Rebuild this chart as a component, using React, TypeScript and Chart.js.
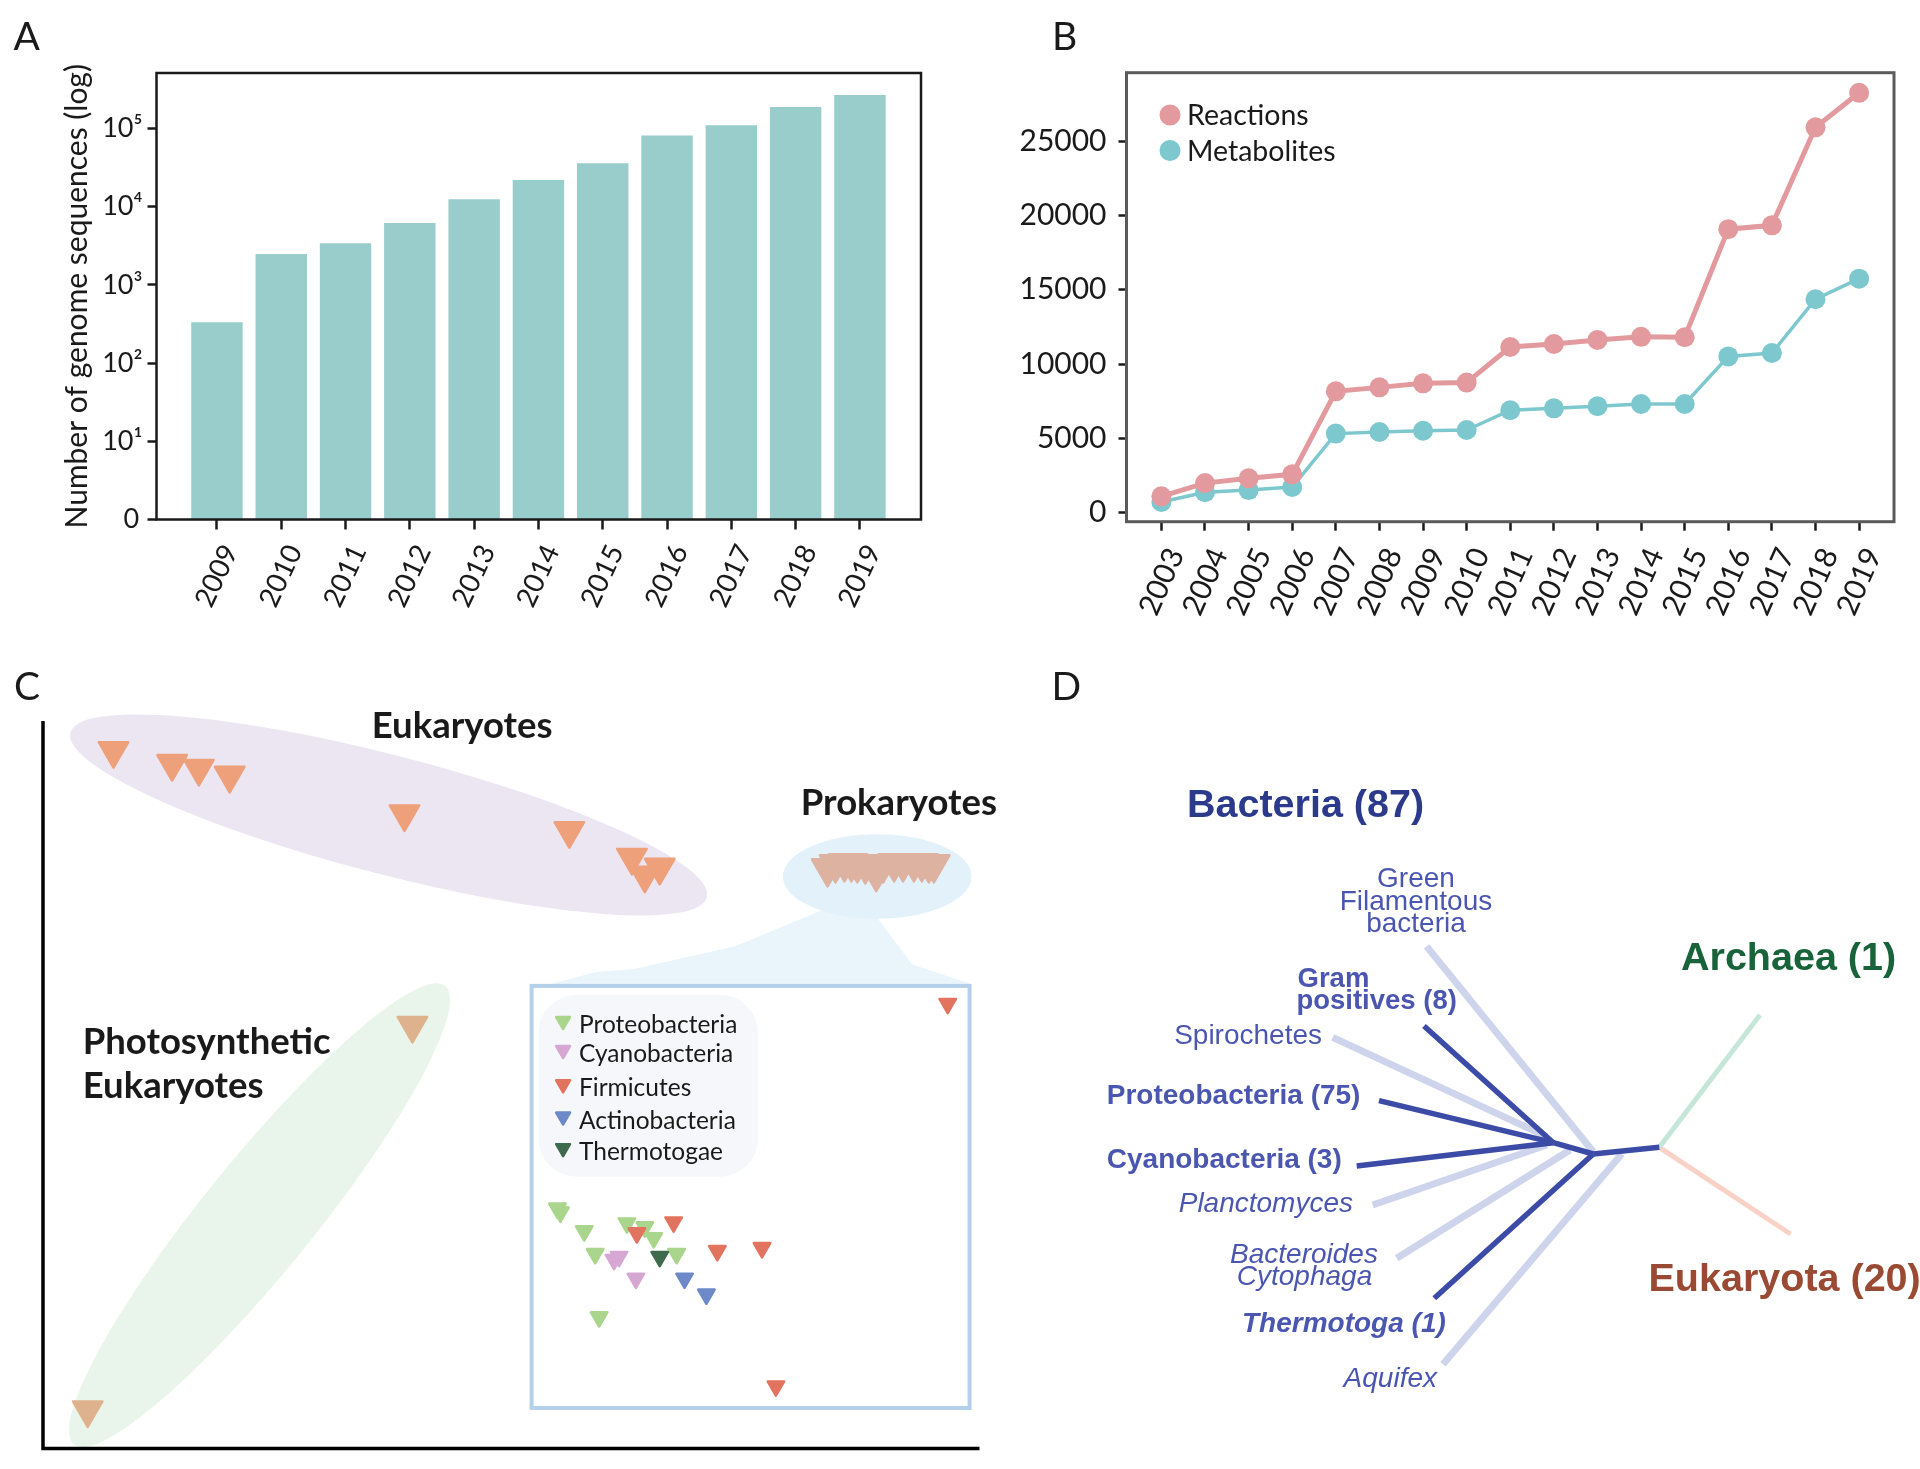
import React, { useEffect, useRef } from 'react';
import { Chart, registerables } from 'chart.js';

Chart.register(...registerables);

const SANS = 'Lato, "Open Sans", "DejaVu Sans", sans-serif';
const TREE = '"Liberation Sans", Arial, Helvetica, sans-serif';
const INK = '#1a1a1a';

// ================= Panel A : genome sequences (log) =================
const genomeYears = [2009, 2010, 2011, 2012, 2013, 2014, 2015, 2016, 2017, 2018, 2019];
const genomeCounts = [334, 2480, 3400, 6170, 12400, 22000, 35900, 81100, 110000, 188000, 267000];
const genomeTickValues = [1, 10, 100, 1000, 10000, 100000];
const genomeTickLabels = ['0\u2009', '10¹', '10²', '10³', '10⁴', '10⁵'];
const genomeAxisTitle = 'Number of genome sequences (log)';

// ================= Panel B : reactions / metabolites =================
const modelYears = [2003, 2004, 2005, 2006, 2007, 2008, 2009, 2010, 2011, 2012, 2013, 2014, 2015, 2016, 2017, 2018, 2019];
const reactionCounts = [1100, 1990, 2310, 2580, 8165, 8430, 8700, 8750, 11145, 11350, 11620, 11830, 11800, 19070, 19330, 25920, 28240];
const metaboliteCounts = [720, 1380, 1520, 1730, 5320, 5430, 5510, 5560, 6890, 7020, 7160, 7310, 7310, 10510, 10740, 14360, 15740];
const modelTickValues = [0, 5000, 10000, 15000, 20000, 25000];
const modelSeriesNames = ['Reactions', 'Metabolites'];
const modelSeriesColors = ['#E39A9E', '#7DC8CE'];

// ================= Panel C : embedding (arbitrary units) =================
const eukaryotePoints = [[71, 706], [130, 693], [157, 688], [188, 681], [364, 642], [530, 625], [593, 598], [621, 588], [606, 580]];
const photosyntheticPoints = [[372, 428], [45, 39]];
const prokaryotePoints = [[790, 587], [798, 591], [807, 592], [814, 592], [820, 591], [828, 590], [839, 582], [846, 591], [857, 592], [866, 592], [877, 592], [885, 592], [892, 591], [897, 591]];
const proteobacteriaPoints = [[518, 243], [521, 239], [545, 220], [588, 228], [606, 224], [615, 213], [556, 197], [638, 197], [560, 133]];
const cyanobacteriaPoints = [[575, 191], [580, 194], [597, 172]];
const firmicutesPoints = [[911, 450], [635, 229], [598, 218], [679, 200], [724, 203], [738, 63]];
const actinobacteriaPoints = [[646, 172], [668, 156]];
const thermotogaePoints = [[621, 194]];
const phylumNames = ['Proteobacteria', 'Cyanobacteria', 'Firmicutes', 'Actinobacteria', 'Thermotogae'];
const phylumColors = ['#A9D58C', '#D5A7D2', '#E2735F', '#6E89C8', '#3F6A4D'];
const groupNames = ['Eukaryotes', 'Photosynthetic Eukaryotes', 'Prokaryotes'];
const groupColors = ['#EEA07A', '#DFB28E', '#DDB2A1'];

// ================= Panel D : tree of life (layout units) =================
const darkBranchNames = ['Gram positives (8)', 'Proteobacteria (75)', 'Cyanobacteria (3)', 'Thermotoga (1)', 'Bacteria crown', 'Bacteria stem'];
const darkBranchFrom = [[424, 443], [379, 368.3], [356.7, 303], [434.3, 170.7], [553.3, 326.3], [593.3, 315]];
const darkBranchTo = [[553.3, 326.3], [553.3, 326.3], [553.3, 326.3], [593.3, 315], [593.3, 315], [659.3, 321.7]];
const lightBranchNames = ['Green Filamentous bacteria', 'Spirochetes', 'Planctomyces', 'Bacteroides Cytophaga', 'Aquifex'];
const lightBranchFrom = [[426.6, 522.6], [332.7, 431.7], [372.7, 264], [396.7, 210.7], [443, 104.7]];
const lightBranchTo = [[593.3, 317.3], [546.7, 332.3], [546.7, 324], [570, 319], [621.7, 315]];
const domainBranchNames = ['Archaea (1)', 'Eukaryota (20)'];
const domainBranchFrom = [[659.3, 321.7], [659.3, 321.7]];
const domainBranchTo = [[760, 454], [790.5, 235]];
const domainBranchColors = ['#C5E6D8', '#F9D2C7'];

// ---------------- shared helpers ----------------
const baseOptions = () => ({
  responsive: false,
  animation: false as const,
  devicePixelRatio: 1,
  events: [] as any[],
});
const noPlugins = { legend: { display: false }, tooltip: { enabled: false } };

const letterPlugin = (id: string, letter: string, x: number, y: number) => ({
  id,
  afterDraw(chart: any) {
    const ctx = chart.ctx;
    ctx.save();
    ctx.font = `400 39px ${SANS}`;
    ctx.fillStyle = INK;
    ctx.textAlign = 'left';
    ctx.textBaseline = 'alphabetic';
    ctx.fillText(letter, x, y);
    ctx.restore();
  },
});

const framePlugin = (id: string, color: string, width: number) => ({
  id,
  afterDatasetsDraw(chart: any) {
    const { left, top, right, bottom } = chart.chartArea;
    const ctx = chart.ctx;
    ctx.save();
    ctx.strokeStyle = color;
    ctx.lineWidth = width;
    ctx.strokeRect(left, top, right - left, bottom - top);
    ctx.restore();
  },
});

function configA(): any {
  return {
    type: 'bar',
    data: {
      datasets: [
        {
          label: 'Genome sequences',
          data: genomeYears.map((y, i) => ({ x: y, y: genomeCounts[i] })),
          backgroundColor: '#99CDCC',
          borderWidth: 0,
          barPercentage: 0.8,
          categoryPercentage: 1,
        },
      ],
    },
    options: {
      ...baseOptions(),
      plugins: noPlugins,
      layout: { padding: { left: 0, top: 73, right: 39, bottom: 0 } },
      scales: {
        x: {
          type: 'linear',
          offset: false,
          min: 2008.06,
          max: 2019.95,
          afterBuildTicks: (s: any) => { s.ticks = genomeYears.map((v) => ({ value: v })); },
          afterFit: (s: any) => { s.height = 120.5; },
          grid: { offset: false, drawOnChartArea: false, drawTicks: true, tickLength: 10, tickWidth: 2.5, tickColor: INK },
          border: { display: false },
          ticks: {
            autoSkip: false,
            minRotation: 65,
            maxRotation: 65,
            labelOffset: 13.5,
            padding: 10,
            color: INK,
            font: { family: SANS, size: 28 },
            callback: (v: any) => String(v),
          },
        },
        y: {
          type: 'logarithmic',
          min: 1,
          max: 512000,
          afterBuildTicks: (s: any) => { s.ticks = genomeTickValues.map((v) => ({ value: v })); },
          afterFit: (s: any) => { s.width = 156.5; },
          grid: { drawOnChartArea: false, drawTicks: true, tickLength: 9, tickWidth: 2.5, tickColor: INK },
          border: { display: false },
          ticks: {
            padding: 5,
            color: INK,
            font: { family: SANS, size: 27 },
            callback: (v: any) => {
              const i = genomeTickValues.indexOf(Number(v));
              return i >= 0 ? genomeTickLabels[i] : '';
            },
          },
          title: {
            display: true,
            text: genomeAxisTitle,
            color: INK,
            font: { family: SANS, size: 30 },
            padding: { top: 59, bottom: 0 },
          },
        },
      },
    },
    plugins: [framePlugin('frameA', INK, 2.5), letterPlugin('letterA', 'A', 13.5, 50)],
  };
}

const legendB = {
  id: 'legendB',
  afterDraw(chart: any) {
    const ctx = chart.ctx;
    ctx.save();
    chart.data.datasets.forEach((ds: any, i: number) => {
      const cy = 115 + i * 35.5;
      ctx.beginPath();
      ctx.arc(210, cy, 10.5, 0, Math.PI * 2);
      ctx.fillStyle = ds.backgroundColor;
      ctx.fill();
      ctx.font = `400 28.5px ${SANS}`;
      ctx.fillStyle = INK;
      ctx.textAlign = 'left';
      ctx.textBaseline = 'alphabetic';
      ctx.fillText(ds.label, 227, 125 + i * 35.7);
    });
    ctx.restore();
  },
};

function configB(): any {
  const series = [reactionCounts, metaboliteCounts];
  return {
    type: 'line',
    data: {
      datasets: series.map((vals, k) => ({
        label: modelSeriesNames[k],
        data: modelYears.map((y, i) => ({ x: y, y: vals[i] })),
        borderColor: modelSeriesColors[k],
        backgroundColor: modelSeriesColors[k],
        pointBackgroundColor: modelSeriesColors[k],
        pointBorderWidth: 0,
        pointRadius: 10,
        borderWidth: k === 0 ? 5 : 3.5,
        tension: 0,
      })),
    },
    options: {
      ...baseOptions(),
      plugins: noPlugins,
      layout: { padding: { left: 0, top: 72.7, right: 26, bottom: 0 } },
      scales: {
        x: {
          type: 'linear',
          offset: false,
          min: 2002.2,
          max: 2019.8,
          afterBuildTicks: (s: any) => { s.ticks = modelYears.map((v) => ({ value: v })); },
          afterFit: (s: any) => { s.height = 118.3; },
          grid: { offset: false, drawOnChartArea: false, drawTicks: true, tickLength: 9, tickWidth: 2.5, tickColor: INK },
          border: { display: false },
          ticks: {
            autoSkip: false,
            minRotation: 66,
            maxRotation: 66,
            labelOffset: 14.5,
            padding: 12,
            color: INK,
            font: { family: SANS, size: 30 },
            callback: (v: any) => String(v),
          },
        },
        y: {
          type: 'linear',
          min: -605,
          max: 29594,
          afterBuildTicks: (s: any) => { s.ticks = modelTickValues.map((v) => ({ value: v })); },
          afterFit: (s: any) => { s.width = 166.5; },
          grid: { drawOnChartArea: false, drawTicks: true, tickLength: 8, tickWidth: 2.5, tickColor: INK },
          border: { display: false },
          ticks: {
            padding: 12,
            color: INK,
            font: { family: SANS, size: 30 },
            callback: (v: any) => String(v),
          },
        },
      },
    },
    plugins: [framePlugin('frameB', '#5a5a5a', 3), legendB, letterPlugin('letterB', 'B', 92, 50)],
  };
}

// ---------- Panel C annotations (in data units of the embedding) ----------
const funnelOutline = [[783, 544], [697, 508], [595, 485], [557, 482], [512, 470], [934, 470], [875, 490], [840, 537]];
const legendBaselines = [420.3, 391, 356.3, 323.7, 291.7];

function downTriangle(ctx: any, x: number, y: number, r: number) {
  const s = Math.sin(Math.PI / 3) * r;
  ctx.beginPath();
  ctx.moveTo(x, y + r);
  ctx.lineTo(x - s, y - r / 2);
  ctx.lineTo(x + s, y - r / 2);
  ctx.closePath();
}

const cAnnotations = {
  id: 'cAnnotations',
  beforeDatasetsDraw(chart: any) {
    const ctx = chart.ctx;
    const xs = chart.scales.x;
    const ys = chart.scales.y;
    const X = (v: number) => xs.getPixelForValue(v);
    const Y = (v: number) => ys.getPixelForValue(v);
    const k = X(1) - X(0);
    ctx.save();
    // funnel from prokaryote cloud to zoom box
    ctx.fillStyle = '#EAF4FB';
    ctx.beginPath();
    funnelOutline.forEach(([x, y], i) => (i ? ctx.lineTo(X(x), Y(y)) : ctx.moveTo(X(x), Y(y))));
    ctx.closePath();
    ctx.fill();
    const ell = (cx: number, cy: number, a: number, b: number, deg: number, color: string) => {
      ctx.beginPath();
      ctx.ellipse(X(cx), Y(cy), a * k, b * k, (deg * Math.PI) / 180, 0, Math.PI * 2);
      ctx.fillStyle = color;
      ctx.fill();
    };
    ell(840, 578.7, 95, 42.5, 0, '#E3F1FA');
    ell(348, 641, 331, 60, 14.5, '#ECE6F3');
    ell(218, 236, 297, 56, -51, '#E9F5EB');
    // zoom box
    ctx.fillStyle = '#ffffff';
    ctx.fillRect(X(492), Y(468), X(933) - X(492), Y(41) - Y(468));
    ctx.strokeStyle = '#B4D0EA';
    ctx.lineWidth = 4;
    ctx.strokeRect(X(492), Y(468), X(933) - X(492), Y(41) - Y(468));
    // legend box
    ctx.fillStyle = '#F5F7FA';
    ctx.beginPath();
    ctx.roundRect(X(499), Y(459), X(720) - X(499), Y(275) - Y(459), 38);
    ctx.fill();
    ctx.lineJoin = 'round';
    phylumNames.forEach((name, i) => {
      const by = Y(legendBaselines[i]);
      downTriangle(ctx, X(523.7), by - 12, 8);
      ctx.fillStyle = phylumColors[i];
      ctx.strokeStyle = phylumColors[i];
      ctx.lineWidth = 2.5;
      ctx.fill();
      ctx.stroke();
      ctx.font = `400 24.5px ${SANS}`;
      ctx.fillStyle = INK;
      ctx.textAlign = 'left';
      ctx.textBaseline = 'alphabetic';
      ctx.fillText(name, X(539.7), by);
    });
    // axes
    ctx.strokeStyle = '#000';
    ctx.lineWidth = 3.5;
    ctx.lineJoin = 'miter';
    ctx.beginPath();
    ctx.moveTo(X(0), Y(736));
    ctx.lineTo(X(0), Y(0));
    ctx.lineTo(X(943), Y(0));
    ctx.stroke();
    // group titles
    ctx.font = `700 36.5px ${SANS}`;
    ctx.fillStyle = INK;
    ctx.textAlign = 'left';
    ctx.textBaseline = 'alphabetic';
    ctx.fillText('Eukaryotes', X(331), Y(719));
    ctx.fillText('Prokaryotes', X(763), Y(641));
    ctx.fillText('Photosynthetic', X(40), Y(398.7));
    ctx.fillText('Eukaryotes', X(40), Y(354.3));
    ctx.restore();
    ctx.lineJoin = 'round';
  },
};

function configC(): any {
  const tri = (label: string, pts: number[][], color: string, r: number, order = 0) => ({
    label,
    data: pts.map(([x, y]) => ({ x, y })),
    pointStyle: 'triangle',
    rotation: 180,
    pointRadius: r,
    backgroundColor: color,
    borderColor: color,
    pointBackgroundColor: color,
    pointBorderColor: color,
    pointBorderWidth: 2.5,
    clip: false,
    order,
  });
  const phylumPts = [proteobacteriaPoints, cyanobacteriaPoints, firmicutesPoints, actinobacteriaPoints, thermotogaePoints];
  return {
    type: 'scatter',
    data: {
      datasets: [
        tri(groupNames[0], eukaryotePoints, groupColors[0], 17),
        tri(groupNames[1], photosyntheticPoints, groupColors[1], 17),
        tri(groupNames[2], prokaryotePoints, groupColors[2], 18),
        ...phylumPts.map((p, i) => tri(phylumNames[i], p, phylumColors[i], 9.5, i === 2 || i === 4 ? -1 : 0)),
      ],
    },
    options: {
      ...baseOptions(),
      plugins: noPlugins,
      layout: { padding: { left: 43, top: 81, right: 14, bottom: 12 } },
      scales: {
        x: { type: 'linear', min: 0, max: 943, display: false },
        y: { type: 'linear', min: 0, max: 736, display: false },
      },
    },
    plugins: [cAnnotations, letterPlugin('letterC', 'C', 14, 60)],
  };
}

// ---------- Panel D ----------
const treeLabelText = ['Bacteria (87)', 'Archaea (1)', 'Eukaryota (20)', 'Green', 'Filamentous', 'bacteria', 'Gram', 'positives (8)', 'Spirochetes', 'Proteobacteria (75)', 'Cyanobacteria (3)', 'Planctomyces', 'Bacteroides', 'Cytophaga', 'Thermotoga (1)', 'Aquifex'];
const LBL = '#4A56AF';
const treeLabelLayout = [
  { x: 187, y: 652, align: 'left', font: `bold 39.5px ${TREE}`, color: '#2C3A8C' },
  { x: 681, y: 499.4, align: 'left', font: `bold 39.5px ${TREE}`, color: '#18633A' },
  { x: 648.5, y: 178.5, align: 'left', font: `bold 39.5px ${TREE}`, color: '#9A4A32' },
  { x: 416, y: 582, align: 'center', font: `28px ${TREE}`, color: LBL },
  { x: 416, y: 558.7, align: 'center', font: `28px ${TREE}`, color: LBL },
  { x: 416, y: 536.6, align: 'center', font: `28px ${TREE}`, color: LBL },
  { x: 297.5, y: 482.3, align: 'left', font: `bold 27.5px ${TREE}`, color: LBL },
  { x: 296.4, y: 459.7, align: 'left', font: `bold 27.5px ${TREE}`, color: LBL },
  { x: 322, y: 424.6, align: 'right', font: `28px ${TREE}`, color: LBL },
  { x: 106.8, y: 365.2, align: 'left', font: `bold 28px ${TREE}`, color: LBL },
  { x: 106.8, y: 300.7, align: 'left', font: `bold 28px ${TREE}`, color: LBL },
  { x: 353, y: 257, align: 'right', font: `italic 28px ${TREE}`, color: LBL },
  { x: 304, y: 206.3, align: 'center', font: `italic 28px ${TREE}`, color: LBL },
  { x: 304.5, y: 184, align: 'center', font: `italic 28px ${TREE}`, color: LBL },
  { x: 242, y: 137, align: 'left', font: `italic bold 28px ${TREE}`, color: LBL },
  { x: 437, y: 82.5, align: 'right', font: `italic 28px ${TREE}`, color: LBL },
];

const treeLabels = {
  id: 'treeLabels',
  afterDatasetsDraw(chart: any) {
    const ctx = chart.ctx;
    const xs = chart.scales.x;
    const ys = chart.scales.y;
    ctx.save();
    ctx.textBaseline = 'alphabetic';
    treeLabelText.forEach((t, i) => {
      const l = treeLabelLayout[i];
      ctx.font = l.font;
      ctx.fillStyle = l.color;
      ctx.textAlign = l.align;
      ctx.fillText(t, xs.getPixelForValue(l.x), ys.getPixelForValue(l.y));
    });
    ctx.restore();
  },
};

function configD(): any {
  const seg = (label: string, a: number[], b: number[], color: string, width: number, order: number) => ({
    label,
    data: [{ x: a[0], y: a[1] }, { x: b[0], y: b[1] }],
    showLine: true,
    pointRadius: 0,
    borderColor: color,
    backgroundColor: color,
    borderWidth: width,
    borderCapStyle: 'butt',
    clip: false,
    order,
  });
  return {
    type: 'scatter',
    data: {
      datasets: [
        ...darkBranchNames.map((n, i) => seg(n, darkBranchFrom[i], darkBranchTo[i], '#3B4BA6', 5.5, 0)),
        ...lightBranchNames.map((n, i) => seg(n, lightBranchFrom[i], lightBranchTo[i], '#CED4EC', 7, 1)),
        ...domainBranchNames.map((n, i) => seg(n, domainBranchFrom[i], domainBranchTo[i], domainBranchColors[i], 5, 1)),
      ],
    },
    options: {
      ...baseOptions(),
      plugins: noPlugins,
      layout: { padding: 0 },
      scales: {
        x: { type: 'linear', min: 0, max: 920, display: false },
        y: { type: 'linear', min: 0, max: 829, display: false },
      },
    },
    plugins: [treeLabels, letterPlugin('letterD', 'D', 51.6, 60)],
  };
}

export default function App() {
  const aRef = useRef<HTMLCanvasElement>(null);
  const bRef = useRef<HTMLCanvasElement>(null);
  const cRef = useRef<HTMLCanvasElement>(null);
  const dRef = useRef<HTMLCanvasElement>(null);

  useEffect(() => {
    const charts = [
      new Chart(aRef.current as HTMLCanvasElement, configA()),
      new Chart(bRef.current as HTMLCanvasElement, configB()),
      new Chart(cRef.current as HTMLCanvasElement, configC()),
      new Chart(dRef.current as HTMLCanvasElement, configD()),
    ];
    return () => charts.forEach((c) => c.destroy());
  }, []);

  const abs = (left: number, top: number, w: number, h: number): React.CSSProperties => ({
    position: 'absolute', left, top, width: w, height: h,
  });

  return (
    <div style={{ position: 'absolute', left: 0, top: 0, width: 1920, height: 1469, background: '#ffffff', overflow: 'hidden' }}>
      <canvas ref={aRef} width={960} height={640} style={abs(0, 0, 960, 640)} />
      <canvas ref={bRef} width={960} height={640} style={abs(960, 0, 960, 640)} />
      <canvas ref={cRef} width={1000} height={829} style={abs(0, 640, 1000, 829)} />
      <canvas ref={dRef} width={920} height={829} style={abs(1000, 640, 920, 829)} />
    </div>
  );
}
